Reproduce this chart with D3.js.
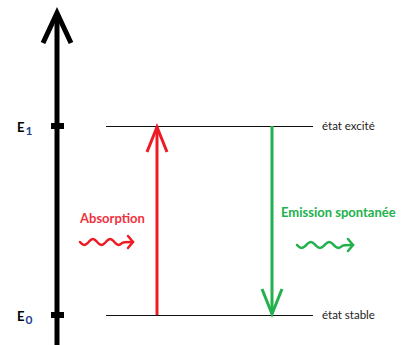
<!DOCTYPE html>
<html><head><meta charset="utf-8">
<script src="https://cdn.jsdelivr.net/npm/d3@7"></script>
<style>html,body{margin:0;padding:0;background:#fff;} svg{display:block;}</style>
</head><body>
<svg id="c" width="402" height="345"></svg>
<script>
const levelNames = ["E", "E"];
const levelSubs = ["0", "1"];
const levelEnergies = [0, 1];
const levelLabels = ["état stable", "état excité"];
const transitionNames = ["Absorption", "Emission spontanée"];
const transitionFrom = [0, 1];
const transitionTo = [1, 0];
const transitionColors = ["#ed1c24", "#22b14c"];
const textColors = ["#f0323c", "#22b14c"];

const svg = d3.select("#c");
const y = d3.scaleLinear().domain([0, 1]).range([315, 126]);
const xAxis = 57;
const xT = d3.scaleOrdinal().domain([0, 1]).range([157, 272]);
const font = "Lato, 'Open Sans', sans-serif";

// main energy axis
svg.append("line").attr("x1", xAxis).attr("x2", xAxis).attr("y1", 345).attr("y2", 14)
  .attr("stroke", "#000").attr("stroke-width", 5);
svg.append("path").attr("d", `M${xAxis-14},43 L${xAxis},13 L${xAxis+14},43`)
  .attr("fill", "none").attr("stroke", "#000").attr("stroke-width", 5).attr("stroke-linejoin", "miter");

// ticks and labels
levelEnergies.forEach((e, i) => {
  svg.append("rect").attr("x", xAxis - 6).attr("y", y(e) - 3).attr("width", 13).attr("height", 6).attr("fill", "#000");
  const t = svg.append("text").attr("x", 17).attr("y", y(e) + 6)
    .attr("font-family", font).attr("font-weight", "bold").attr("font-size", 13).attr("fill", "#000");
  t.append("tspan").text(levelNames[i]);
  t.append("tspan").attr("dx", 1).attr("dy", 3).attr("font-size", 12).attr("fill", "#1f3f8f").text(levelSubs[i]);
  // level line
  svg.append("line").attr("x1", 106).attr("x2", 313).attr("y1", y(e) + 0.5).attr("y2", y(e) + 0.5)
    .attr("stroke", "#111").attr("stroke-width", 1);
  svg.append("text").attr("x", 322).attr("y", y(e) + 4)
    .attr("font-family", font).attr("font-size", 11.5).attr("fill", "#222")
    .text(levelLabels[i]);
});

// transitions
transitionNames.forEach((n, i) => {
  const x = xT(i);
  const y0 = y(transitionFrom[i]), y1 = y(transitionTo[i]);
  const dir = y1 < y0 ? 1 : -1;
  const col = transitionColors[i];
  svg.append("line").attr("x1", x).attr("x2", x).attr("y1", y0).attr("y2", y1 + dir)
    .attr("stroke", col).attr("stroke-width", 3);
  svg.append("path").attr("d", `M${x-10},${y1 + dir*26} L${x},${y1 + dir*1} L${x+10},${y1 + dir*26}`)
    .attr("fill", "none").attr("stroke", col).attr("stroke-width", 3);
});

// transition labels
const labelPos = [[80, 223], [281, 217]];
transitionNames.forEach((n, i) => {
  svg.append("text").attr("x", labelPos[i][0]).attr("y", labelPos[i][1])
    .attr("font-family", font).attr("font-weight", "bold").attr("font-size", 13)
    .attr("fill", textColors[i]).text(n);
});

// wavy photon arrows
const wavePos = [[80, 242, 133], [297, 245, 353]];
wavePos.forEach(([x0, yc, x1], i) => {
  const pts = [];
  const len = x1 - x0 - 10;
  for (let k = 0; k <= 40; k++) {
    const t = k / 40;
    pts.push([x0 + t * len, yc + 3 * Math.sin(t * Math.PI * 5)]);
  }
  pts.push([x1, yc]);
  svg.append("path").attr("d", d3.line().curve(d3.curveBasis)(pts))
    .attr("fill", "none").attr("stroke", transitionColors[i]).attr("stroke-width", 2.5).attr("stroke-linecap", "round");
  svg.append("path").attr("d", `M${x1-5},${yc-6} L${x1},${yc} L${x1-5},${yc+6}`)
    .attr("fill", "none").attr("stroke", transitionColors[i]).attr("stroke-width", 2.5).attr("stroke-linecap", "round");
});
</script>
</body></html>
